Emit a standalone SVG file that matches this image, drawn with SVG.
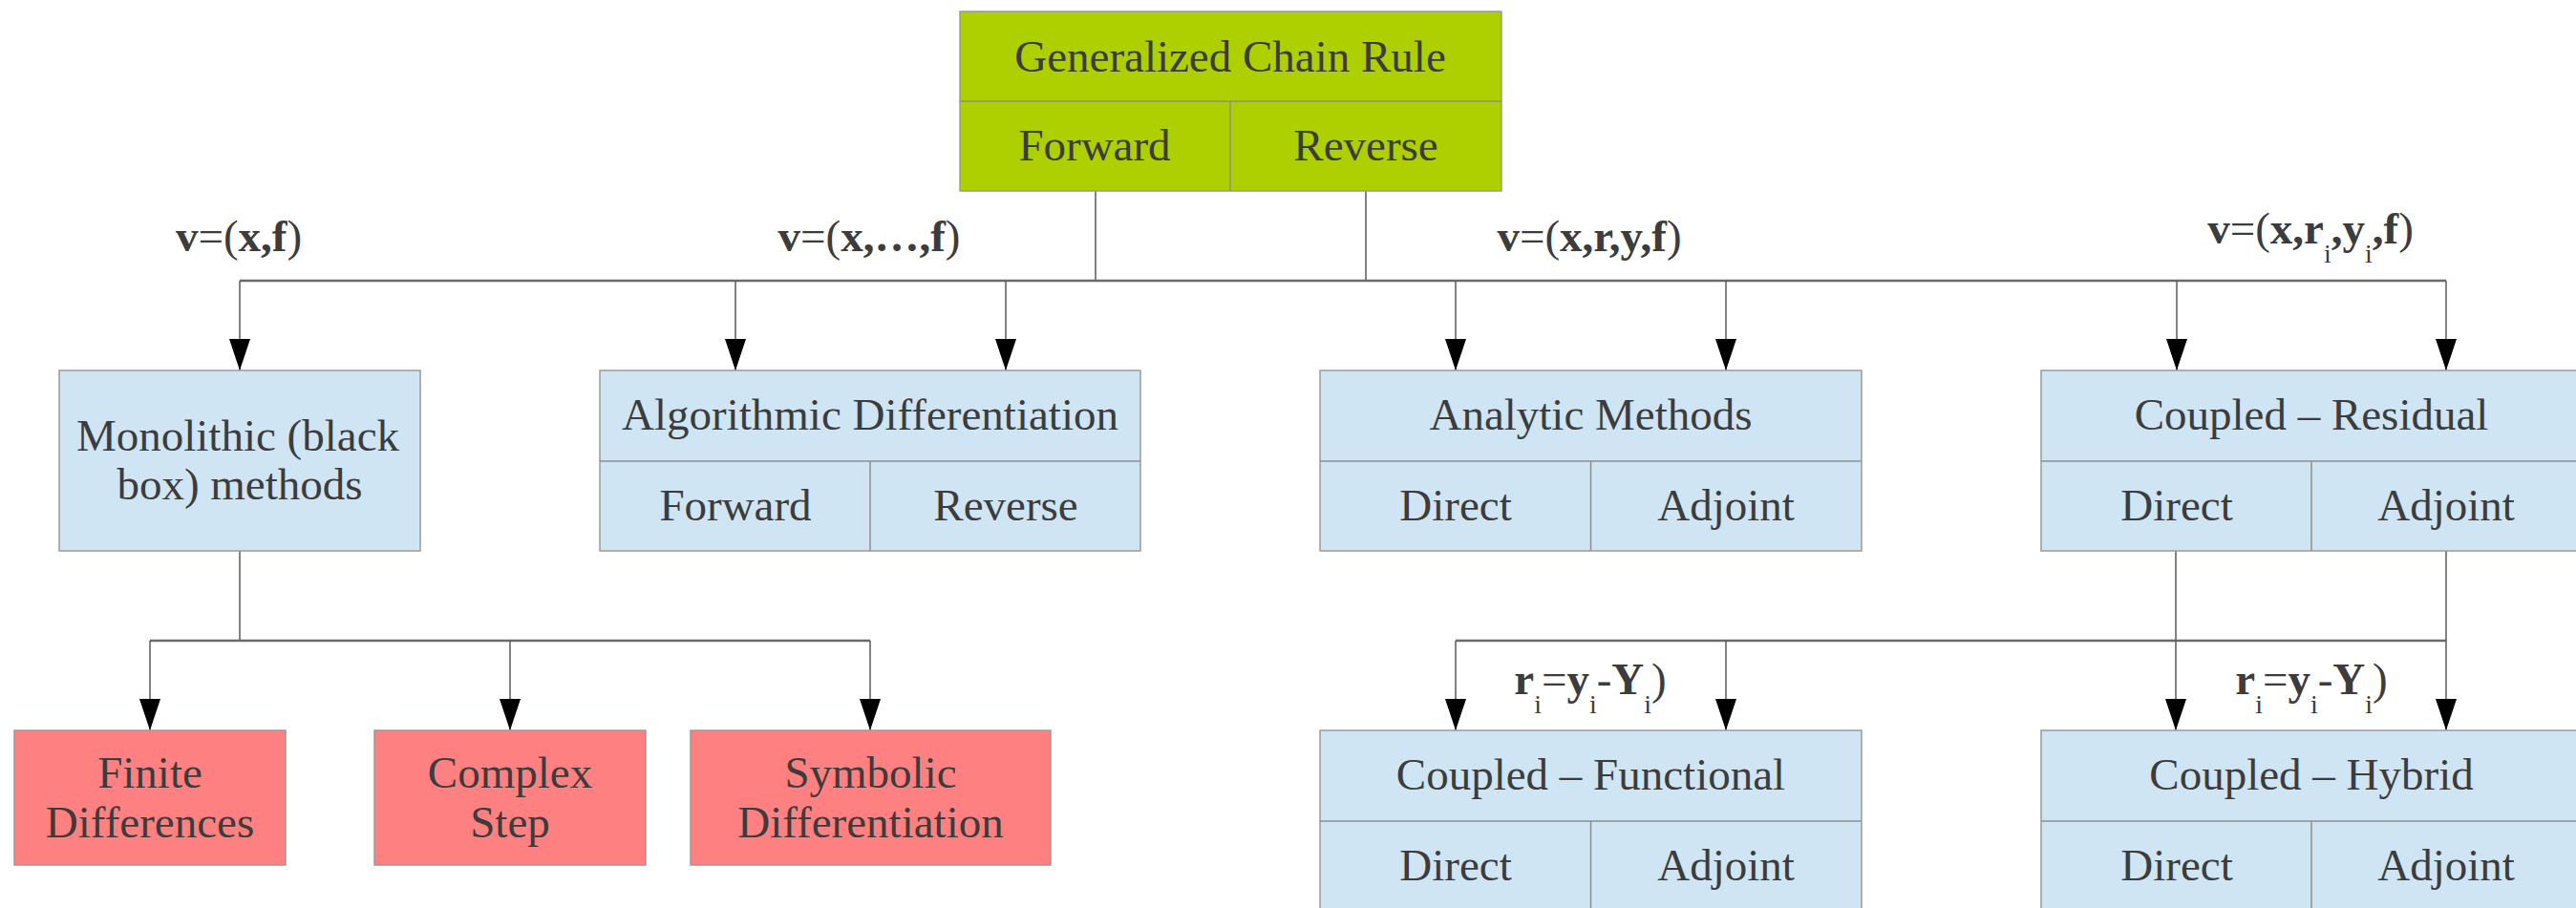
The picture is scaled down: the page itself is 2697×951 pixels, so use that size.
<svg xmlns="http://www.w3.org/2000/svg" width="2697" height="951" viewBox="0 0 2697 951">
  <style>
    text { font-family: "Liberation Serif", "Times New Roman", serif; font-size: 47px; fill: #3c3c3c; text-anchor: middle; }
    .b { font-weight: bold; }
    .sub { font-size: 28px; font-weight: normal; }
    .box { stroke: #9a9a9a; stroke-width: 1.5; }
    .green { fill: #aecf00; }
    .blue { fill: #cfe5f3; }
    .red { fill: #ff8080; }
    .div { stroke: #8e8e8e; stroke-width: 1.5; fill: none; }
    .conn { stroke: #5a5a5a; stroke-width: 1.5; fill: none; }
    .bus { stroke: #6a6a6a; stroke-width: 2.5; fill: none; }
    .arrow { stroke: #5a5a5a; stroke-width: 1.5; fill: none; marker-end: url(#head); }
  </style>
  <defs>
    <!-- filled triangular arrowhead, tip at the end of the line -->
    <marker id="head" markerUnits="userSpaceOnUse" viewBox="0 0 33 22" markerWidth="33" markerHeight="22" refX="33" refY="11" orient="auto">
      <path d="M0,0 L33,11 L0,22 Z" fill="#000"/>
    </marker>
  </defs>

  <!-- connectors -->
  <g id="connectors">
    <!-- root to first level bus -->
    <path class="conn" d="M1147,200 V294 M1430,200 V294"/>
    <path class="bus" d="M251,294 H2561"/>
    <!-- first level arrows -->
    <path class="arrow" d="M251,294 V388"/>
    <path class="arrow" d="M770,294 V388"/>
    <path class="arrow" d="M1053,294 V388"/>
    <path class="arrow" d="M1524,294 V388"/>
    <path class="arrow" d="M1807,294 V388"/>
    <path class="arrow" d="M2279,294 V388"/>
    <path class="arrow" d="M2561,294 V388"/>
    <!-- monolithic children -->
    <path class="conn" d="M251,577 V671"/>
    <path class="bus" d="M157,671 H911"/>
    <path class="arrow" d="M157,671 V765"/>
    <path class="arrow" d="M534,671 V765"/>
    <path class="arrow" d="M911,671 V765"/>
    <!-- residual children -->
    <path class="bus" d="M1524,671 H2561"/>
    <path class="arrow" d="M2278,577 V765"/>
    <path class="arrow" d="M2561,577 V765"/>
    <path class="arrow" d="M1524,671 V765"/>
    <path class="arrow" d="M1807,671 V765"/>
  </g>

  <!-- edge labels -->
  <g id="labels">
    <text x="250" y="263"><tspan class="b">v</tspan>=(<tspan class="b">x,f</tspan>)</text>
    <text x="910" y="263"><tspan class="b">v</tspan>=(<tspan class="b">x,…,f</tspan>)</text>
    <text x="1664" y="263"><tspan class="b">v</tspan>=(<tspan class="b">x,r,y,f</tspan>)</text>
    <text x="2419" y="255"><tspan class="b">v</tspan>=(<tspan class="b">x,r</tspan><tspan class="sub" dy="20">i</tspan><tspan class="b" dy="-20">,y</tspan><tspan class="sub" dy="20">i</tspan><tspan class="b" dy="-20">,f</tspan>)</text>
    <text x="1665" y="727"><tspan class="b">r</tspan><tspan class="sub" dy="20">i</tspan><tspan dy="-20">=</tspan><tspan class="b">y</tspan><tspan class="sub" dy="20">i</tspan><tspan dy="-20">-</tspan><tspan class="b">Y</tspan><tspan class="sub" dy="20">i</tspan><tspan dy="-20">)</tspan></text>
    <text x="2420" y="727"><tspan class="b">r</tspan><tspan class="sub" dy="20">i</tspan><tspan dy="-20">=</tspan><tspan class="b">y</tspan><tspan class="sub" dy="20">i</tspan><tspan dy="-20">-</tspan><tspan class="b">Y</tspan><tspan class="sub" dy="20">i</tspan><tspan dy="-20">)</tspan></text>
  </g>

  <!-- root -->
  <g id="chain-rule">
    <rect class="box green" x="1005" y="12" width="567" height="188"/>
    <path class="div" d="M1005,106 H1572 M1288,106 V200"/>
    <text x="1288" y="75">Generalized Chain Rule</text>
    <text x="1146" y="168">Forward</text>
    <text x="1430" y="168">Reverse</text>
  </g>

  <g id="monolithic">
    <rect class="box blue" x="62" y="388" width="378" height="189"/>
    <text x="249" y="472">Monolithic (black</text>
    <text x="251" y="523">box) methods</text>
  </g>

  <g id="algorithmic">
    <rect class="box blue" x="628" y="388" width="566" height="189"/>
    <path class="div" d="M628,483 H1194 M911,483 V577"/>
    <text x="911" y="450">Algorithmic Differentiation</text>
    <text x="770" y="545">Forward</text>
    <text x="1053" y="545">Reverse</text>
  </g>

  <g id="analytic">
    <rect class="box blue" x="1382" y="388" width="567" height="189"/>
    <path class="div" d="M1382,483 H1949 M1665.5,483 V577"/>
    <text x="1665.5" y="450">Analytic Methods</text>
    <text x="1524" y="545">Direct</text>
    <text x="1807" y="545">Adjoint</text>
  </g>

  <g id="coupled-residual">
    <rect class="box blue" x="2137" y="388" width="566" height="189"/>
    <path class="div" d="M2137,483 H2703 M2420,483 V577"/>
    <text x="2420" y="450">Coupled – Residual</text>
    <text x="2279" y="545">Direct</text>
    <text x="2561" y="545">Adjoint</text>
  </g>

  <g id="finite-differences">
    <rect class="box red" x="15" y="765" width="284" height="141"/>
    <text x="157" y="825">Finite</text>
    <text x="157" y="877">Differences</text>
  </g>

  <g id="complex-step">
    <rect class="box red" x="392" y="765" width="284" height="141"/>
    <text x="534" y="825">Complex</text>
    <text x="534" y="877">Step</text>
  </g>

  <g id="symbolic">
    <rect class="box red" x="723" y="765" width="377" height="141"/>
    <text x="911.5" y="825">Symbolic</text>
    <text x="911.5" y="877">Differentiation</text>
  </g>

  <g id="coupled-functional">
    <rect class="box blue" x="1382" y="765" width="567" height="190"/>
    <path class="div" d="M1382,860 H1949 M1665.5,860 V955"/>
    <text x="1665.5" y="827">Coupled – Functional</text>
    <text x="1524" y="922">Direct</text>
    <text x="1807" y="922">Adjoint</text>
  </g>

  <g id="coupled-hybrid">
    <rect class="box blue" x="2137" y="765" width="566" height="190"/>
    <path class="div" d="M2137,860 H2703 M2420,860 V955"/>
    <text x="2420" y="827">Coupled – Hybrid</text>
    <text x="2279" y="922">Direct</text>
    <text x="2561" y="922">Adjoint</text>
  </g>
</svg>
